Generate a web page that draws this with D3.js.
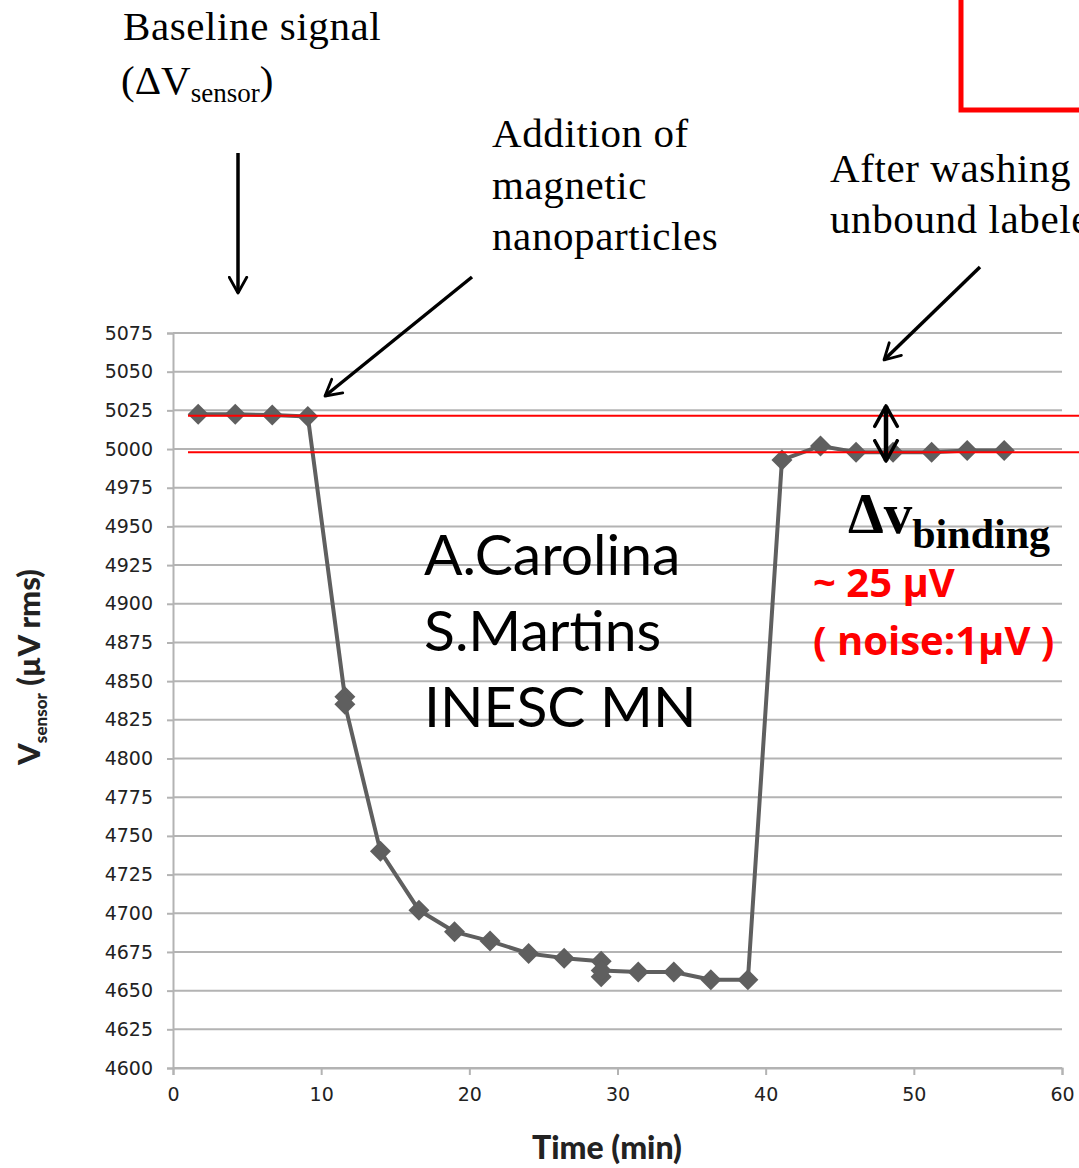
<!DOCTYPE html>
<html>
<head>
<meta charset="utf-8">
<script src="https://d3js.org/d3.v7.min.js"></script>
<style>
  html, body { margin: 0; padding: 0; background: #fff; }
  svg { display: block; }
</style>
</head>
<body>
<div id="chart"></div>
<script>
const timeMin = [1.7, 4.2, 6.7, 9.1, 11.6, 11.6, 14.0, 16.6, 19.0, 21.4, 24.0, 26.4,
  28.9, 28.9, 28.9, 31.4, 33.8, 36.3, 38.8, 41.1, 43.7, 46.1, 48.6, 51.2, 53.6, 56.1];
const vSensor = [5022.5, 5022.5, 5022, 5021, 4840, 4835, 4740, 4702, 4688, 4682, 4674, 4671,
  4669, 4659, 4663, 4662, 4662, 4657, 4657, 4993, 5002, 4998, 4998, 4998, 4999, 4999];

// Reference levels (red lines): before particles and after washing
const refLevels = [5021.6, 4997.9];

const yTicks = d3.range(4600, 5076, 25);
const xTicks = [0, 10, 20, 30, 40, 50, 60];

const W = 1079, H = 1168;
const margin = { top: 333, right: 17, bottom: 100, left: 173 };
const width = W - margin.left - margin.right;
const height = H - margin.top - margin.bottom;

const svg = d3.select("#chart").append("svg")
  .attr("width", W)
  .attr("height", H);

const x = d3.scaleLinear().domain([0, 60]).range([margin.left, margin.left + width]);
const y = d3.scaleLinear().domain([4600, 5075]).range([margin.top + height, margin.top]);

// gridlines
svg.append("g").selectAll("line")
  .data(yTicks)
  .enter().append("line")
  .attr("x1", x(0)).attr("x2", x(60))
  .attr("y1", d => y(d)).attr("y2", d => y(d))
  .attr("stroke", "#b3b3b3")
  .attr("stroke-width", 2);

// y axis
const yAxis = svg.append("g")
  .attr("transform", `translate(${x(0)},0)`)
  .call(d3.axisLeft(y).tickValues(yTicks).tickFormat(d3.format("d")).tickSize(6).tickPadding(14));
yAxis.select(".domain").attr("stroke", "#b3b3b3").attr("stroke-width", 2);
yAxis.selectAll(".tick line").attr("stroke", "#b3b3b3").attr("stroke-width", 2);
yAxis.selectAll(".tick text")
  .style("font-family", "DejaVu Sans, sans-serif")
  .style("font-size", "19px")
  .attr("fill", "#222");

// x axis
const xAxis = svg.append("g")
  .attr("transform", `translate(0,${y(4600)})`)
  .call(d3.axisBottom(x).tickValues(xTicks).tickSize(7).tickPadding(13));
xAxis.select(".domain").attr("stroke", "#b3b3b3").attr("stroke-width", 2);
xAxis.selectAll(".tick line").attr("stroke", "#b3b3b3").attr("stroke-width", 2);
xAxis.selectAll(".tick text")
  .style("font-family", "DejaVu Sans, sans-serif")
  .style("font-size", "19px")
  .attr("fill", "#222");

// axis titles
svg.append("text")
  .attr("x", 607).attr("y", 1159)
  .attr("text-anchor", "middle")
  .style("font-family", "Lato, sans-serif")
  .style("font-weight", "900")
  .style("font-size", "32px")
  .attr("fill", "#222")
  .text("Time (min)");

const yTitle = svg.append("text")
  .attr("transform", "translate(40,667) rotate(-90)")
  .attr("text-anchor", "middle")
  .style("font-family", "Lato, sans-serif")
  .style("font-weight", "900")
  .style("font-size", "31px")
  .attr("fill", "#222");
yTitle.append("tspan").text("V");
yTitle.append("tspan").attr("dy", 7).style("font-size", "17px").text("sensor");
yTitle.append("tspan").attr("dy", -7).text(" (µV rms)");

// data line + markers
const pts = timeMin.map((t, i) => [t, vSensor[i]]);
const line = d3.line().x(d => x(d[0])).y(d => y(d[1]));
svg.append("path")
  .datum(pts)
  .attr("d", line)
  .attr("fill", "none")
  .attr("stroke", "#5f5f5f")
  .attr("stroke-width", 4)
  .attr("stroke-linejoin", "round");

const diamond = "M0,-10.5L10.5,0L0,10.5L-10.5,0Z";
svg.append("g").selectAll("path")
  .data(pts)
  .enter().append("path")
  .attr("d", diamond)
  .attr("transform", d => `translate(${x(d[0])},${y(d[1])})`)
  .attr("fill", "#5f5f5f");

// red reference lines
svg.append("g").selectAll("line")
  .data(refLevels)
  .enter().append("line")
  .attr("x1", 188).attr("x2", W)
  .attr("y1", d => y(d)).attr("y2", d => y(d))
  .attr("stroke", "#ff0000")
  .attr("stroke-width", 2);

// red box in top-right corner
svg.append("path")
  .attr("d", "M961,0 V110 H1085")
  .attr("fill", "none")
  .attr("stroke", "#ff0000")
  .attr("stroke-width", 5);

// arrows
const defs = svg.append("defs");
function arrowHead(id, sw) {
  defs.append("marker")
    .attr("id", id)
    .attr("viewBox", "0 0 12 12")
    .attr("refX", 10).attr("refY", 6)
    .attr("markerWidth", 6).attr("markerHeight", 6)
    .attr("orient", "auto-start-reverse")
    .attr("markerUnits", "strokeWidth")
    .append("path")
    .attr("d", "M1,1 L10,6 L1,11")
    .attr("fill", "none")
    .attr("stroke", "#000")
    .attr("stroke-width", sw)
    .attr("stroke-linecap", "round")
    .attr("stroke-linejoin", "round");
}
arrowHead("ah", 1.6);

function arrow(x1, y1, x2, y2, w, both) {
  const l = svg.append("line")
    .attr("x1", x1).attr("y1", y1).attr("x2", x2).attr("y2", y2)
    .attr("stroke", "#000")
    .attr("stroke-width", w)
    .attr("marker-end", "url(#ah)");
  if (both) l.attr("marker-start", "url(#ah)");
}
arrow(238, 153, 238, 293, 3.5);
arrow(472, 277, 325, 396, 3.5);
arrow(980, 267, 884, 360, 3.5);
arrow(886, 406, 886, 461, 4.5, true);

// serif annotations
const serif = "'Liberation Serif', 'Times New Roman', serif";
function label(xp, yp, txt, size) {
  return svg.append("text")
    .attr("x", xp).attr("y", yp)
    .style("font-family", serif)
    .style("font-size", size + "px")
    .style("letter-spacing", "0.6px")
    .attr("fill", "#000")
    .text(txt);
}
label(123, 40, "Baseline signal", 41);
const dv = svg.append("text")
  .attr("x", 121).attr("y", 94)
  .style("font-family", serif)
  .style("font-size", "41px")
  .attr("fill", "#000");
dv.append("tspan").text("(ΔV");
dv.append("tspan").attr("dy", 8).style("font-size", "27px").text("sensor");
dv.append("tspan").attr("dy", -8).text(")");

label(492, 147, "Addition of", 41);
label(492, 199, "magnetic", 41);
label(492, 250, "nanoparticles", 41);
label(830, 182, "After washing", 41);
// cut off at the right edge, as in the original slide
label(830, 233, "unbound labeled", 41);

// Δv binding
const dvb = svg.append("text")
  .attr("x", 848).attr("y", 533)
  .style("font-family", serif)
  .style("font-weight", "bold")
  .style("font-size", "57px")
  .attr("fill", "#000");
dvb.append("tspan").text("Δv");
dvb.append("tspan").attr("dy", 15).style("font-size", "42px").text("binding");

// red values
const red = svg.append("g")
  .style("font-family", "'Open Sans', sans-serif")
  .style("font-weight", "bold")
  .style("font-size", "40px")
  .attr("fill", "#ff0000");
red.append("text").attr("x", 813).attr("y", 597).text("~ 25 µV");
red.append("text").attr("x", 813).attr("y", 655).text("( noise:1µV )");

// author text
const author = svg.append("g")
  .style("font-family", "Lato, sans-serif")
  .style("font-size", "57px")
  .attr("fill", "#000");
author.append("text").attr("x", 424).attr("y", 575).text("A.Carolina");
author.append("text").attr("x", 424).attr("y", 651).text("S.Martins");
author.append("text").attr("x", 424).attr("y", 727).text("INESC MN");
</script>
</body>
</html>
